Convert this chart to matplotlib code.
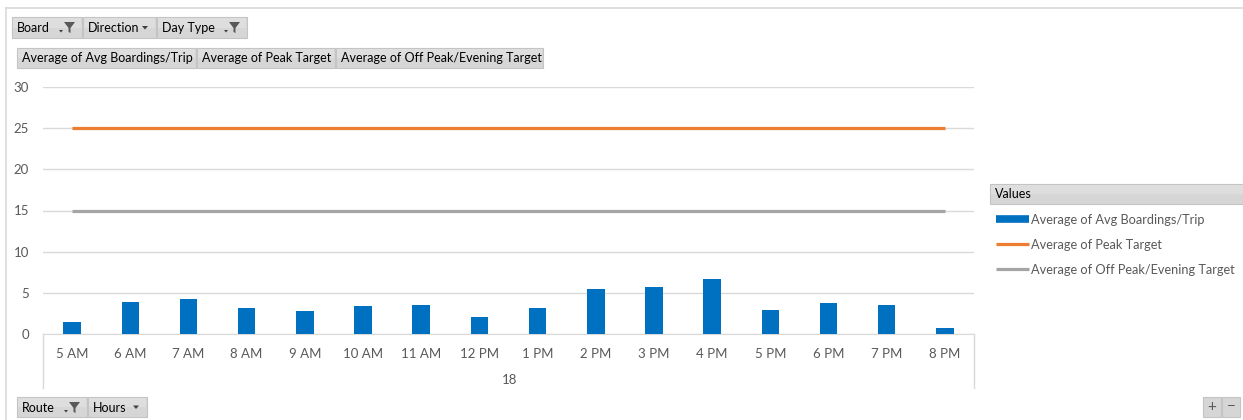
import matplotlib.pyplot as plt
from matplotlib.patches import Rectangle, Polygon
from matplotlib.lines import Line2D

plt.rcParams['font.family'] = ['Lato', 'DejaVu Sans']

hours = ["5 AM", "6 AM", "7 AM", "8 AM", "9 AM", "10 AM", "11 AM", "12 PM",
         "1 PM", "2 PM", "3 PM", "4 PM", "5 PM", "6 PM", "7 PM", "8 PM"]
avg_boardings = [1.48, 3.85, 4.30, 3.11, 2.75, 3.40, 3.48, 2.01,
                 3.11, 5.41, 5.73, 6.63, 2.95, 3.77, 3.48, 0.74]
peak_target = [25] * 16
offpeak_target = [15] * 16
route = "18"
y_ticks = [0, 5, 10, 15, 20, 25, 30]
series_names = ["Average of Avg Boardings/Trip", "Average of Peak Target",
                "Average of Off Peak/Evening Target"]

BLUE, ORANGE, GRAY = "#0070C0", "#ED7D31", "#A5A5A5"
GRID = "#d9d9d9"
TXT = "#595959"

W, H = 1243, 420
fig = plt.figure(figsize=(W / 100, H / 100), dpi=100)


def fx(px):
    return px / W


def fy(py):
    return 1 - py / H


# main chart
ax = fig.add_axes([fx(43), fy(334), (974 - 43) / W, (334 - 87) / H])
x = list(range(len(hours)))
ax.bar(x, avg_boardings, width=0.3, color=BLUE, zorder=3)
l_peak, = ax.plot(x, peak_target, color=ORANGE, lw=2.3, solid_capstyle="butt", zorder=4)
l_off, = ax.plot(x, offpeak_target, color=GRAY, lw=2.3, solid_capstyle="butt", zorder=4)

ax.set_xlim(-0.5, len(hours) - 0.5)
ax.set_ylim(0, 30)
ax.set_yticks(y_ticks)
ax.set_xticks(x)
ax.set_xticklabels(hours)
ax.yaxis.grid(True, color=GRID, lw=1)
ax.set_axisbelow(True)
for s in ["top", "left", "right"]:
    ax.spines[s].set_visible(False)
ax.spines["bottom"].set_color(GRID)
ax.tick_params(axis="both", length=0, labelsize=9.5, labelcolor=TXT)
ax.tick_params(axis="y", pad=10)
ax.tick_params(axis="x", pad=10)

# overlay in pixel coordinates for the pivot-chart decorations
ov = fig.add_axes([0, 0, 1, 1])
ov.set_xlim(0, W)
ov.set_ylim(H, 0)
ov.axis("off")

# outer chart border
ov.plot([6, W], [8, 8], color=GRID, lw=1.2)
ov.plot([6, 6], [8, H], color=GRID, lw=1.2)

# category axis group box
ov.plot([43, 43], [334, 388], color=GRID, lw=1)
ov.plot([974, 974], [334, 388], color=GRID, lw=1)
ov.text(510, 380, route, ha="center", va="center", fontsize=9.5, color=TXT)


def funnel(x0, y0):
    ov.add_patch(Polygon([(x0, y0), (x0 + 11, y0), (x0 + 6.5, y0 + 6),
                          (x0 + 6.5, y0 + 11), (x0 + 4.5, y0 + 10), (x0 + 4.5, y0 + 6)],
                         closed=True, color="#595959", lw=0))
    ov.add_patch(Polygon([(x0 - 5, y0 + 8), (x0 - 1, y0 + 8), (x0 - 3, y0 + 10.5)],
                         closed=True, color="#404040", lw=0))


def arrow(x0, y0):
    ov.add_patch(Polygon([(x0, y0), (x0 + 6, y0), (x0 + 3, y0 + 3.5)],
                         closed=True, color="#404040", lw=0))


def button(x0, x1, y0, y1, label, icon=None):
    ov.add_patch(Rectangle((x0, y0), x1 - x0, y1 - y0, facecolor="#d6d6d6",
                           edgecolor="#c4c4c4", lw=0.8))
    ov.add_patch(Rectangle((x0 + 1, y0 + 1), x1 - x0 - 2, (y1 - y0) / 2 - 1,
                           facecolor="#dedede", lw=0))
    ov.text(x0 + 5, (y0 + y1) / 2 + 0.5, label, ha="left", va="center",
            fontsize=9, color="#000000")
    if icon == "funnel":
        funnel(x1 - 18, y0 + 5)
    elif icon == "arrow":
        arrow(x1 - 14, (y0 + y1) / 2 - 1.5)


button(12, 82, 17, 38, "Board", "funnel")
button(83, 156, 17, 38, "Direction", "arrow")
button(157, 247, 17, 38, "Day Type", "funnel")

button(17, 196, 48, 68, series_names[0])
button(197, 335, 48, 68, series_names[1])
button(336, 543, 48, 68, series_names[2])

button(17, 87, 397, 417, "Route", "funnel")
button(88, 147, 397, 417, "Hours", "arrow")

# zoom buttons
for bx, sym in [(1203, "+"), (1222, "\u2212")]:
    ov.add_patch(Rectangle((bx, 397), 18, 20, facecolor="#d6d6d6",
                           edgecolor="#c4c4c4", lw=0.8))
    ov.text(bx + 9, 407, sym, ha="center", va="center", fontsize=11, color="#595959")

# legend header
ov.add_patch(Rectangle((990, 184), W - 990, 20, facecolor="#d6d6d6", edgecolor="#c4c4c4", lw=0.8))
ov.add_patch(Rectangle((991, 185), W - 991, 9, facecolor="#dedede", lw=0))
ov.text(995, 194.5, "Values", ha="left", va="center", fontsize=9, color="#000000")

bar_proxy = Line2D([], [], color=BLUE, lw=5.5, solid_capstyle="butt")
fig.legend([bar_proxy, l_peak, l_off], series_names, loc="upper left",
           bbox_to_anchor=(fx(992), fy(210)), frameon=False, fontsize=9.2,
           labelcolor=TXT, handlelength=2.6, handletextpad=0.12,
           labelspacing=1.02, borderaxespad=0, borderpad=0.3)

fig.savefig("out.png", dpi=100)
